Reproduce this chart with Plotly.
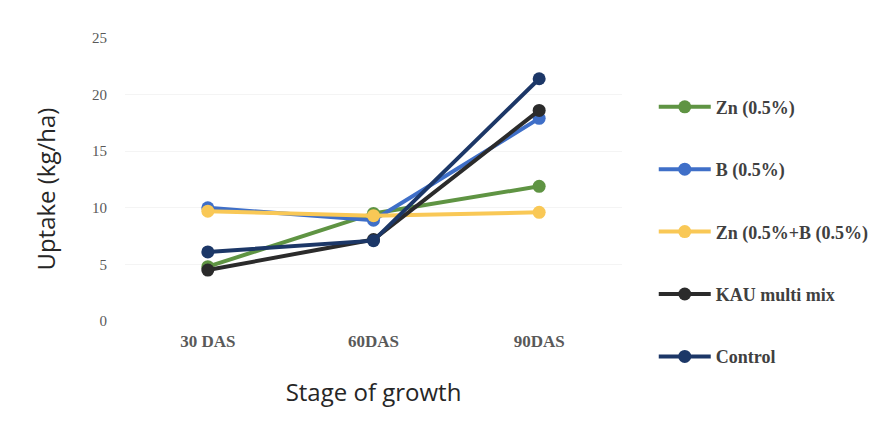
import plotly.graph_objects as go

stages = ["30 DAS", "60DAS", "90DAS"]
series_names = ["Zn (0.5%)", "B (0.5%)", "Zn (0.5%+B (0.5%)", "KAU multi mix", "Control"]
zn = [4.8, 9.5, 11.9]
b = [10.0, 8.9, 17.9]
znb = [9.7, 9.3, 9.6]
kau = [4.5, 7.2, 18.6]
control = [6.1, 7.1, 21.4]
y_ticks = [0, 5, 10, 15, 20, 25]

colors = ["#5f9443", "#3f6fc8", "#f9c856", "#2b2b2b", "#1c3767"]
values = [zn, b, znb, kau, control]

fig = go.Figure()
for i, (name, vals, col) in enumerate(zip(series_names, values, colors)):
    fig.add_trace(go.Scatter(
        x=stages, y=vals, name=name, mode="lines+markers",
        legendgroup=f"g{i}",
        line=dict(color=col, width=4),
        marker=dict(color=col, size=13),
    ))

fig.update_layout(
    width=874, height=422,
    margin=dict(l=125, r=252, t=38, b=101),
    paper_bgcolor="white", plot_bgcolor="white",
    showlegend=True,
    legend=dict(
        xref="container", yref="container",
        x=0.748, y=0.79, xanchor="left", yanchor="top",
        maxheight=1,
        font=dict(family="Liberation Serif", size=18, color="#404040", weight="bold"),
        tracegroupgap=36, itemwidth=52,
        bgcolor="rgba(0,0,0,0)",
    ),
    xaxis=dict(
        type="category", range=[-0.5, 2.5],
        showgrid=False, zeroline=False, showline=False,
        tickfont=dict(family="Liberation Serif", size=17, color="#595959", weight="bold"),
        ticks="", ticklabelstandoff=8,
        title=dict(text="Stage of growth", font=dict(family="Open Sans", size=24, color="#262626"), standoff=34),
    ),
    yaxis=dict(
        range=[0, 25], tickvals=y_ticks,
        showgrid=True, gridcolor="#f4f4f4", zeroline=False, showline=False,
        tickfont=dict(family="Liberation Serif", size=15, color="#595959"),
        ticks="", ticklabelstandoff=17,
    ),
    annotations=[dict(
        text="Uptake (kg/ha)", textangle=-90, showarrow=False,
        xref="paper", yref="paper", x=-0.16, y=0.466,
        xanchor="center", yanchor="middle",
        font=dict(family="Open Sans", size=24, color="#262626"),
    )],
)

fig.write_html("out.html")
